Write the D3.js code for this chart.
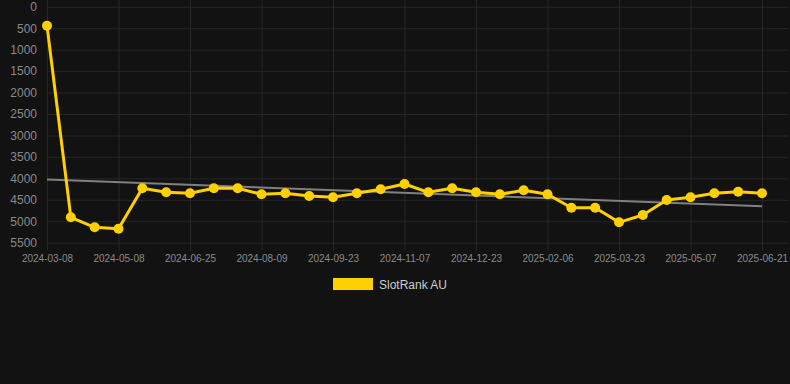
<!DOCTYPE html>
<html><head><meta charset="utf-8">
<script src="https://cdn.jsdelivr.net/npm/d3@7"></script>
<style>
html,body{margin:0;padding:0;background:#121212;}
svg{display:block;}
</style></head>
<body>
<svg id="c" width="790" height="384"></svg>
<script>
const dates = ["2024-03-08","2024-03-28","2024-04-17","2024-05-08","2024-05-24","2024-06-09","2024-06-25",
"2024-07-10","2024-07-25","2024-08-09","2024-08-24","2024-09-08","2024-09-23","2024-10-08","2024-10-23",
"2024-11-07","2024-11-22","2024-12-08","2024-12-23","2025-01-07","2025-01-22","2025-02-06","2025-02-21",
"2025-03-08","2025-03-23","2025-04-07","2025-04-22","2025-05-07","2025-05-22","2025-06-06","2025-06-21"];
const ranks = [442,4908,5141,5174,4232,4325,4349,4232,4232,4372,4349,4411,4442,4349,4255,4132,4325,4232,4325,4372,4279,4372,4684,4684,5025,4854,4505,4442,4349,4311,4349];
const yTicks = [0,500,1000,1500,2000,2500,3000,3500,4000,4500,5000,5500];
const seriesName = "SlotRank AU";

const svg = d3.select("#c");
const pLeft = 47, pRight = 762, pTop = 6.75, pBottom = 242.7;
const x = d3.scalePoint().domain(dates).range([pLeft, pRight]);
const y = d3.scaleLinear().domain([0, 5500]).range([pTop, pBottom]);
const xTickVals = dates.filter((d,i)=>i%3===0);
const grid = "#262626";

// horizontal grid
const gy = svg.append("g").attr("transform",`translate(${pLeft},0)`)
  .call(d3.axisLeft(y).tickValues(yTicks).tickFormat(d3.format("d")).tickSize(-(788-pLeft)).tickPadding(10));
gy.select(".domain").remove();
gy.selectAll("line").attr("stroke",grid).attr("stroke-width",1);
gy.selectAll("text").attr("fill","#8a8a8a").style("font-family","Arial, 'Liberation Sans', sans-serif").style("font-size","12px");

// vertical grid + x labels
const gx = svg.append("g").attr("transform",`translate(0,${pBottom+8})`)
  .call(d3.axisBottom(x).tickValues(xTickVals).tickSize(-(pBottom+8)).tickPadding(4));
gx.select(".domain").remove();
gx.selectAll("line").attr("stroke",grid).attr("stroke-width",1);
gx.selectAll("text").attr("fill","#8a8a8a").style("font-family","Arial, 'Liberation Sans', sans-serif").style("font-size","10px");

// trend line (least squares)
const n = ranks.length;
const mx = d3.mean(ranks,(d,i)=>i), my = d3.mean(ranks);
const sxy = d3.sum(ranks,(d,i)=>(i-mx)*(d-my)), sxx = d3.sum(ranks,(d,i)=>(i-mx)*(i-mx));
const slope = sxy/sxx, icpt = my - slope*mx;
svg.append("line")
  .attr("x1",x(dates[0])).attr("y1",y(icpt))
  .attr("x2",x(dates[n-1])).attr("y2",y(icpt+slope*(n-1)))
  .attr("stroke","#808080").attr("stroke-width",2);

// series line
const yellow = "#ffd000";
svg.append("path").datum(ranks)
  .attr("d", d3.line().x((d,i)=>x(dates[i])).y(d=>y(d)))
  .attr("fill","none").attr("stroke",yellow).attr("stroke-width",3).attr("stroke-linejoin","round");
svg.append("g").selectAll("circle").data(ranks).join("circle")
  .attr("cx",(d,i)=>x(dates[i])).attr("cy",d=>y(d)).attr("r",5).attr("fill",yellow);

// legend
svg.append("rect").attr("x",333).attr("y",278).attr("width",40).attr("height",12).attr("fill",yellow);
svg.append("text").attr("x",379).attr("y",288.5).text(seriesName)
  .attr("fill","#cccccc").style("font-family","Arial, 'Liberation Sans', sans-serif").style("font-size","12px");
</script>
</body></html>
